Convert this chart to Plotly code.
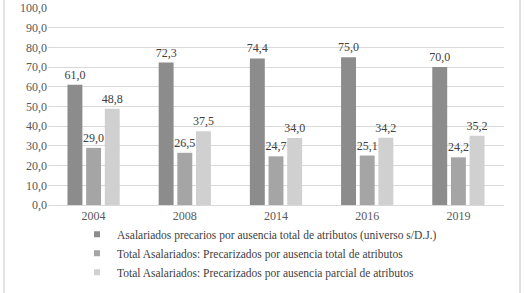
import plotly.graph_objects as go

years = ["2004", "2008", "2014", "2016", "2019"]
serie_a = [61.0, 72.3, 74.4, 75.0, 70.0]
serie_b = [29.0, 26.5, 24.7, 25.1, 24.2]
serie_c = [48.8, 37.5, 34.0, 34.2, 35.2]
names = [
    "Asalariados precarios por ausencia total de atributos (universo s/D.J.)",
    "Total Asalariados: Precarizados por ausencia total de atributos",
    "Total Asalariados: Precarizados por ausencia parcial de atributos",
]
colors = ["#8c8c8c", "#a5a5a5", "#d0d0d0"]
yticks = [0, 10, 20, 30, 40, 50, 60, 70, 80, 90, 100]

FONT = "Liberation Serif, Times New Roman, serif"

fig = go.Figure()
for i, (vals, nm, c) in enumerate(zip([serie_a, serie_b, serie_c], names, colors)):
    fig.add_trace(go.Bar(
        x=years, y=vals, name=nm, marker_color=c, marker_line_width=0,
        texttemplate="%{y:.1f}", textposition="outside", constraintext="none",
        textfont=dict(family=FONT, size=12, color="#404040"),
        cliponaxis=False, showlegend=False, legendgroup=f"g{i}",
    ))
    # legend entry with a small square marker
    fig.add_trace(go.Scatter(
        x=[None], y=[None], mode="markers", name=nm, legendgroup=f"g{i}",
        marker=dict(symbol="square", size=6, color=c), showlegend=True,
    ))

fig.update_layout(
    width=525, height=293,
    margin=dict(l=48, r=21, t=8, b=88, autoexpand=False),
    paper_bgcolor="white", plot_bgcolor="white",
    separators=",.",
    barmode="group", bargap=0.386, bargroupgap=0.2,
    font=dict(family=FONT, size=12, color="#404040"),
    showlegend=True,
    legend=dict(orientation="v", x=(77 - 48) / 456, xanchor="left", y=-0.075, yanchor="top",
                font=dict(family=FONT, size=11.5, color="#404040"),
                bgcolor="rgba(0,0,0,0)", itemwidth=30, tracegroupgap=0),
    xaxis=dict(showgrid=False, showline=True, linecolor="#d9d9d9", linewidth=1,
               automargin=False,
               ticks="", tickfont=dict(family=FONT, size=12, color="#595959")),
    yaxis=dict(range=[0, 100], tickvals=yticks, tickformat=".1f", automargin=False,
               showgrid=True, gridcolor="#d9d9d9", gridwidth=1, zeroline=False,
               showline=False, ticks="", ticklen=0,
               tickfont=dict(family=FONT, size=12, color="#595959")),
    shapes=[
        dict(type="line", xref="paper", yref="paper", x0=-44/456, x1=-44/456,
             y0=-88/197, y1=1 + 8/197, line=dict(color="#d9d9d9", width=1.5)),
        dict(type="line", xref="paper", yref="paper", x0=472/456, x1=472/456,
             y0=-88/197, y1=1 + 8/197, line=dict(color="#d9d9d9", width=1.5)),
    ],
)

fig.write_html("out.html", config={"displayModeBar": False},
               post_script="document.body.style.margin='0';")
